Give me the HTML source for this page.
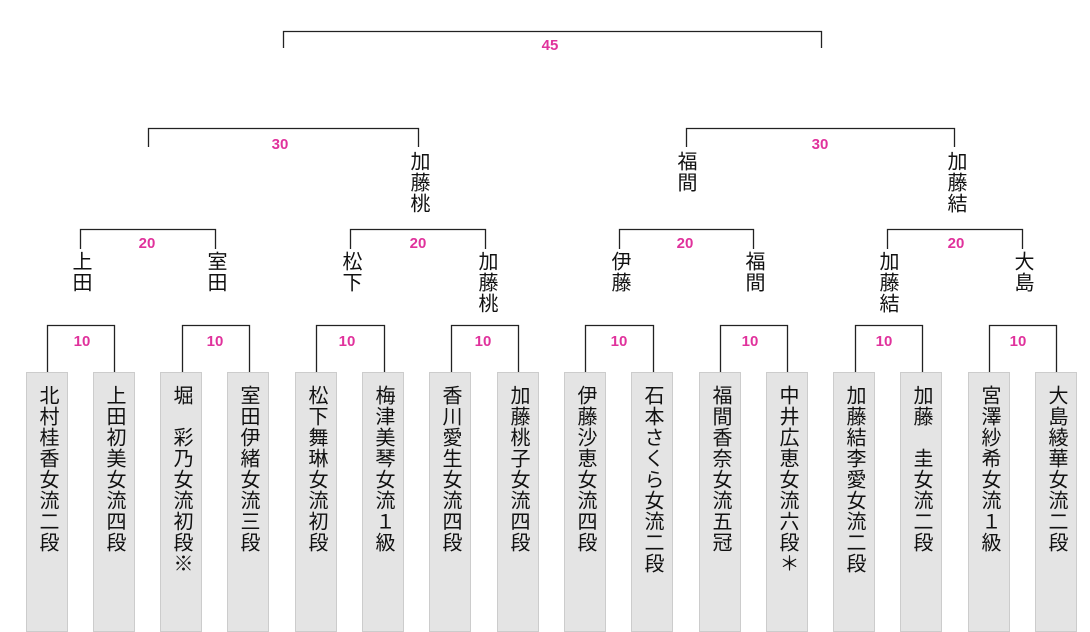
<!DOCTYPE html>
<html><head><meta charset="utf-8"><style>
body{margin:0;width:1090px;height:616px;background:#fff;position:relative;overflow:hidden;font-family:"Liberation Sans","Noto Sans CJK JP",sans-serif;}
.b{position:absolute;top:372px;width:42px;height:260px;background:#e4e4e4;border:1px solid #ccc;box-sizing:border-box;}
.v{position:absolute;writing-mode:vertical-rl;font-size:20px;line-height:20px;color:#111;letter-spacing:1px;}
.b .v{left:10px;top:12px;}
.n{transform:translateX(-10px);}
.s{position:absolute;color:#e0329c;font-weight:bold;font-size:15px;transform:translateX(-50%);}
svg{position:absolute;left:0;top:0;}
</style></head><body>
<svg width="1090" height="616" fill="none" stroke="#222" stroke-width="1.3">
<path d="M283.5 48V31.5H821.5V48"/>
<path d="M148.5 147V128.5H418.5V147"/>
<path d="M686.5 147V128.5H954.5V147"/>
<path d="M80.5 249V229.5H215.5V249"/>
<path d="M350.5 249V229.5H485.5V249"/>
<path d="M619.5 249V229.5H753.5V249"/>
<path d="M887.5 249V229.5H1022.5V249"/>
<path d="M47.5 372V325.5H114.5V372"/>
<path d="M182.5 372V325.5H249.5V372"/>
<path d="M316.5 372V325.5H384.5V372"/>
<path d="M451.5 372V325.5H518.5V372"/>
<path d="M585.5 372V325.5H653.5V372"/>
<path d="M720.5 372V325.5H787.5V372"/>
<path d="M855.5 372V325.5H922.5V372"/>
<path d="M989.5 372V325.5H1056.5V372"/>
</svg>
<div class="s" style="left:550px;top:37px">45</div>
<div class="s" style="left:280px;top:136px">30</div>
<div class="s" style="left:820px;top:136px">30</div>
<div class="s" style="left:147px;top:235px">20</div>
<div class="s" style="left:418px;top:235px">20</div>
<div class="s" style="left:685px;top:235px">20</div>
<div class="s" style="left:956px;top:235px">20</div>
<div class="s" style="left:82px;top:333px">10</div>
<div class="s" style="left:215px;top:333px">10</div>
<div class="s" style="left:347px;top:333px">10</div>
<div class="s" style="left:483px;top:333px">10</div>
<div class="s" style="left:619px;top:333px">10</div>
<div class="s" style="left:750px;top:333px">10</div>
<div class="s" style="left:884px;top:333px">10</div>
<div class="s" style="left:1018px;top:333px">10</div>

<div class="v n" style="left:418px;top:151px">加藤桃</div>
<div class="v n" style="left:685px;top:151px">福間</div>
<div class="v n" style="left:955px;top:151px">加藤結</div>
<div class="v n" style="left:80px;top:251px">上田</div>
<div class="v n" style="left:215px;top:251px">室田</div>
<div class="v n" style="left:350px;top:251px">松下</div>
<div class="v n" style="left:486px;top:251px">加藤桃</div>
<div class="v n" style="left:619px;top:251px">伊藤</div>
<div class="v n" style="left:753px;top:251px">福間</div>
<div class="v n" style="left:887px;top:251px">加藤結</div>
<div class="v n" style="left:1022px;top:251px">大島</div>

<div class="b" style="left:26px"><div class="v">北村桂香女流二段</div></div>
<div class="b" style="left:93px"><div class="v">上田初美女流四段</div></div>
<div class="b" style="left:160px"><div class="v">堀　彩乃女流初段※</div></div>
<div class="b" style="left:227px"><div class="v">室田伊緒女流三段</div></div>
<div class="b" style="left:295px"><div class="v">松下舞琳女流初段</div></div>
<div class="b" style="left:362px"><div class="v">梅津美琴女流１級</div></div>
<div class="b" style="left:429px"><div class="v">香川愛生女流四段</div></div>
<div class="b" style="left:497px"><div class="v">加藤桃子女流四段</div></div>
<div class="b" style="left:564px"><div class="v">伊藤沙恵女流四段</div></div>
<div class="b" style="left:631px"><div class="v">石本さくら女流二段</div></div>
<div class="b" style="left:699px"><div class="v">福間香奈女流五冠</div></div>
<div class="b" style="left:766px"><div class="v">中井広恵女流六段＊</div></div>
<div class="b" style="left:833px"><div class="v">加藤結李愛女流二段</div></div>
<div class="b" style="left:900px"><div class="v">加藤　圭女流二段</div></div>
<div class="b" style="left:968px"><div class="v">宮澤紗希女流１級</div></div>
<div class="b" style="left:1035px"><div class="v">大島綾華女流二段</div></div>
</body></html>
